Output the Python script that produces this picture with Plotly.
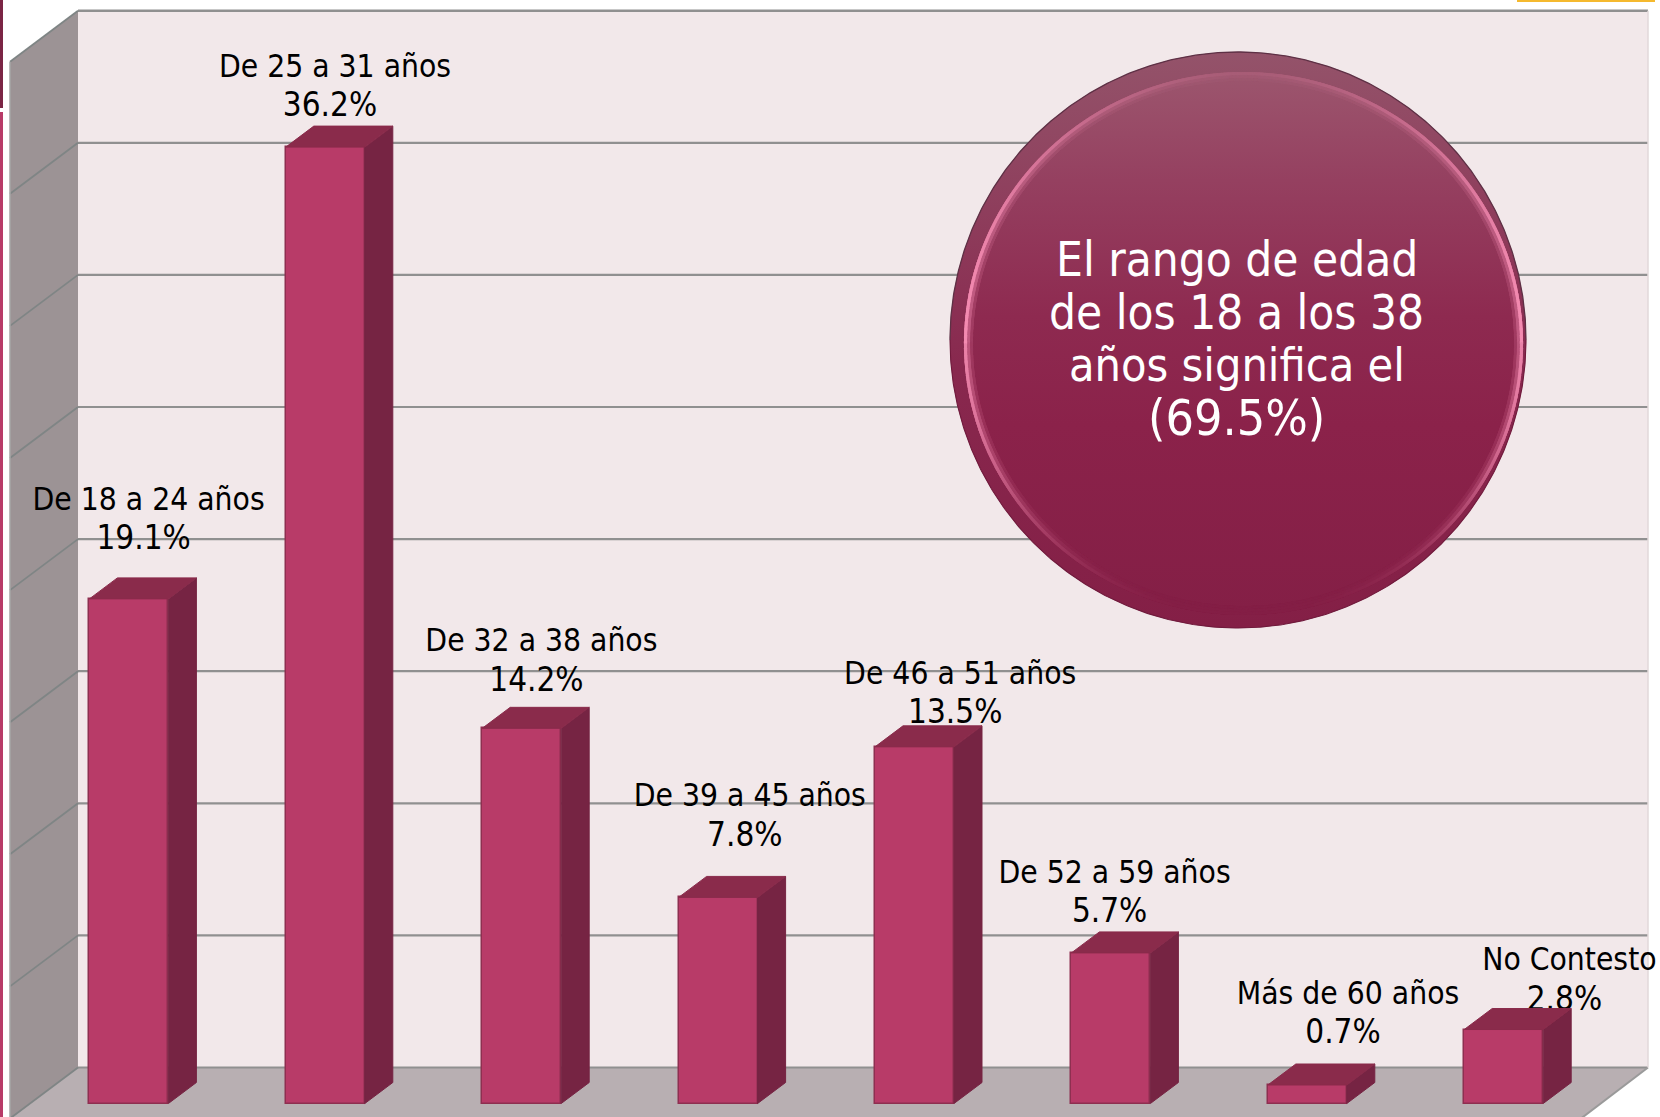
import numpy as np
import plotly.graph_objects as go

# ---- data ----
categories = ["De 18 a 24 años", "De 25 a 31 años", "De 32 a 38 años", "De 39 a 45 años",
              "De 46 a 51 años", "De 52 a 59 años", "Más de 60 años", "No Contesto"]
values = [19.1, 36.2, 14.2, 7.8, 13.5, 5.7, 0.7, 2.8]
grid_ticks = [0, 5, 10, 15, 20, 25, 30, 35, 40]
callout_lines = ["El rango de edad", "de los 18 a los 38", "años significa el", "(69.5%)"]

# ---- hand placement of the labels (px away from the top of each bar) ----
label_dx = [20, 10, 20, 32, 46, 4, 41, 66]
label_dy = [97, 78, 85, 99, 71, 78, 89, 67]
LINE_GAP = 39
PCT_DX = -5
callout_y = [259.4, 312.3, 365.2, 418.2]
callout_size = [47.3, 47.3, 46.4, 49.8]

# ---- page -> axis calibration ----
W, H = 1660, 1117
X0, XU = 128.9, 196.4     # px of category 0, px per category
Y0, YU = 1103.5, 26.42    # px of value 0, px per percent
def dx(p): return p / XU
def dy(p): return p / YU
def fx(p): return (p - X0) / XU
def fy(p): return (Y0 - p) / YU

BAR_W = dx(79)
DEPTH_X, DEPTH_Y = dx(28), dy(21)
BACK_DY = dy(36)          # back wall sits higher than the bars' front plane
WALL_L, WALL_R = fx(78), fx(1648)
SIDE_L = fx(10)
SIDE_DY = dy(51)
FLOOR_R = fx(1581)

FRONT, FRONT_EDGE, SIDE, TOP = "#B83B68", "#8E2F50", "#762443", "#8A2B4B"
WALL, SIDE_WALL, FLOOR, GRID = "#F2E8EA", "#9C9395", "#B8AFB2", "#909090"
FONT = "DejaVu Sans Condensed"

fig = go.Figure()

def poly(xs, ys, color):
    path = "M " + " L ".join(f"{a},{b}" for a, b in zip(xs, ys)) + " Z"
    fig.add_shape(type="path", path=path, xref="x", yref="y", layer="below",
                  fillcolor=color, line=dict(width=0))

def seg(x0, y0, x1, y1, color=GRID, width=2):
    fig.add_shape(type="line", x0=x0, y0=y0, x1=x1, y1=y1, xref="x", yref="y", layer="below",
                  line=dict(color=color, width=width))

top_y = grid_ticks[-1] + BACK_DY
base_y = grid_ticks[0] + BACK_DY
poly([WALL_L, WALL_R, WALL_R, WALL_L], [base_y, base_y, top_y, top_y], WALL)
poly([SIDE_L, WALL_L, WALL_L, SIDE_L], [top_y - SIDE_DY, top_y, base_y, base_y - SIDE_DY], SIDE_WALL)
poly([WALL_L, WALL_R, FLOOR_R, SIDE_L], [base_y, base_y, base_y - SIDE_DY, base_y - SIDE_DY], FLOOR)
for t in grid_ticks:
    y = t + BACK_DY
    seg(WALL_L, y, WALL_R, y, GRID, 2.6 if t == grid_ticks[-1] else 2.2)
    seg(WALL_L, y, SIDE_L, y - SIDE_DY, "#7F8585", 1.8)
seg(SIDE_L, top_y - SIDE_DY, SIDE_L, base_y - SIDE_DY, "#A6A6A6", 1.5)
seg(WALL_R, base_y, FLOOR_R, base_y - SIDE_DY, "#9A9A9A", 2)
seg(WALL_R, base_y, WALL_R, top_y, "#E2D8DA", 1.5)

# page furniture cropped into the picture
for x0, x1, y0, y1, c in [(0, 3, 0, 108, "#7B2545"), (0, 3, 112, 1117, "#B83B68")]:
    fig.add_shape(type="rect", xref="paper", yref="paper", x0=x0 / W, x1=x1 / W,
                  y0=1 - y1 / H, y1=1 - y0 / H, fillcolor=c, line=dict(width=0), layer="below")
fig.add_shape(type="rect", xref="paper", yref="paper", x0=1517 / W, x1=1655 / W,
              y0=1 - 2 / H, y1=1, fillcolor="#F5B92E", line=dict(width=0), layer="below")

x = np.arange(len(values))
val = np.array(values)

# front faces
fig.add_trace(go.Bar(x=x, y=val, width=BAR_W, marker=dict(color=FRONT, line=dict(color=FRONT_EDGE, width=1.5)),
                     hoverinfo="skip", showlegend=False))

# circle call-out
def ellipse(cx, cy, rx, ry, n=721):
    t = np.linspace(0, 2 * np.pi, n)
    return t, fx(cx) + dx(rx) * np.cos(t), fy(cy) + dy(ry) * np.sin(t)

def hex_rgb(h):
    return np.array([int(h[i:i + 2], 16) for i in (1, 3, 5)], dtype=float)

INNER_STOPS = [(0, "#841F46"), (0.35, "#8B224A"), (0.55, "#8E2A50"), (0.8, "#954060"), (1, "#9C566E")]
PINK = hex_rgb("#F48CB2")

_, ox, oy = ellipse(1238, 340, 288, 288)
fig.add_trace(go.Scatter(x=ox, y=oy, mode="none", fill="toself",
                         fillgradient=dict(type="vertical",
                                           colorscale=[[0, "#841F46"], [0.45, "#88284E"], [1, "#94536A"]]),
                         hoverinfo="skip", showlegend=False))
half = len(ox) // 2 + 1
fig.add_trace(go.Scatter(x=ox[:half], y=oy[:half], mode="lines", line=dict(color="#5E3045", width=1.3),
                         hoverinfo="skip", showlegend=False))
fig.add_trace(go.Scatter(x=ox[half - 1:], y=oy[half - 1:], mode="lines", line=dict(color="#701A3C", width=1.1),
                         hoverinfo="skip", showlegend=False))
th, ix, iy = ellipse(1243.5, 343.5, 279.5, 271.5, 1441)
fig.add_trace(go.Scatter(x=ix, y=iy, mode="none", fill="toself",
                         fillgradient=dict(type="vertical", colorscale=[[p, c] for p, c in INNER_STOPS]),
                         hoverinfo="skip", showlegend=False))

# bevel highlight: strongest on the sides, faint on top, gone at the bottom
c = np.abs(np.cos(th))
upper = np.sin(th) > 0
mix = np.where(upper, 0.14 + 0.86 * c ** 1.6, 0.9 * c ** 3.5)
stops_p = [p for p, _ in INNER_STOPS]
stops_c = np.array([hex_rgb(h) for _, h in INNER_STOPS])
frac = (np.sin(th) + 1) / 2
base = np.stack([np.interp(frac, stops_p, stops_c[:, k]) for k in range(3)], axis=1)

def rim_trace(inset, size, strength):
    t, rx_, ry_ = ellipse(1243.5, 343.5, 279.5 - inset, 271.5 - inset, 1441)
    m = (mix * strength)[:, None]
    col = base * (1 - m) + PINK * m
    colors = [f"rgb({int(r)},{int(g)},{int(b)})" for r, g, b in col]
    fig.add_trace(go.Scatter(x=rx_, y=ry_, mode="markers", marker=dict(size=size, color=colors, line=dict(width=0)),
                             hoverinfo="skip", showlegend=False))

rim_trace(4.5, 9, 0.2)
rim_trace(3, 6, 0.5)
rim_trace(1.5, 3.2, 1.0)

# labels (drawn before the box tops: the 2.8% runs behind its bar)
name_x = x + dx(np.array(label_dx)) + dx(128.6 - X0)
name_y = val + dy(np.array(label_dy))
fig.add_trace(go.Scatter(x=name_x, y=name_y, mode="text", text=categories, textposition="middle center",
                         textfont=dict(family=FONT, size=31.5, color="#000000"), cliponaxis=False,
                         hoverinfo="skip", showlegend=False))
fig.add_trace(go.Scatter(x=name_x + dx(PCT_DX), y=name_y - dy(LINE_GAP), mode="text",
                         text=[f"{v:.1f}%" for v in values], textposition="middle center",
                         textfont=dict(family=FONT, size=33, color="#000000"), cliponaxis=False,
                         hoverinfo="skip", showlegend=False))

# side and top faces
sx, sy, tx, ty = [], [], [], []
for i, v in zip(x, val):
    l, r = i - BAR_W / 2, i + BAR_W / 2
    sx += [r, r + DEPTH_X, r + DEPTH_X, r, r, None]
    sy += [0, DEPTH_Y, v + DEPTH_Y, v, 0, None]
    tx += [l, l + DEPTH_X, r + DEPTH_X, r, l, None]
    ty += [v, v + DEPTH_Y, v + DEPTH_Y, v, v, None]
fig.add_trace(go.Scatter(x=sx, y=sy, mode="lines", fill="toself", fillcolor=SIDE,
                         line=dict(color=SIDE, width=1), hoverinfo="skip", showlegend=False))
fig.add_trace(go.Scatter(x=tx, y=ty, mode="lines", fill="toself", fillcolor=TOP,
                         line=dict(color=TOP, width=1), hoverinfo="skip", showlegend=False))

for line, py, fs in zip(callout_lines, callout_y, callout_size):
    fig.add_annotation(x=fx(1236.6), y=fy(py), xref="x", yref="y", text=line, showarrow=False,
                       font=dict(family=FONT, size=fs, color="#FFFFFF"), align="center")

fig.update_layout(
    width=W, height=H, margin=dict(l=0, r=0, t=0, b=0, pad=0), autosize=False,
    paper_bgcolor="#FFFFFF", plot_bgcolor="rgba(0,0,0,0)", showlegend=False, bargap=0,
    xaxis=dict(range=[fx(0), fx(W)], visible=False, fixedrange=True),
    yaxis=dict(range=[fy(H), fy(0)], visible=False, fixedrange=True),
)
fig.write_html("out.html", config={"displayModeBar": False},
               post_script="document.body.style.margin='0';document.documentElement.style.overflow='hidden';")
